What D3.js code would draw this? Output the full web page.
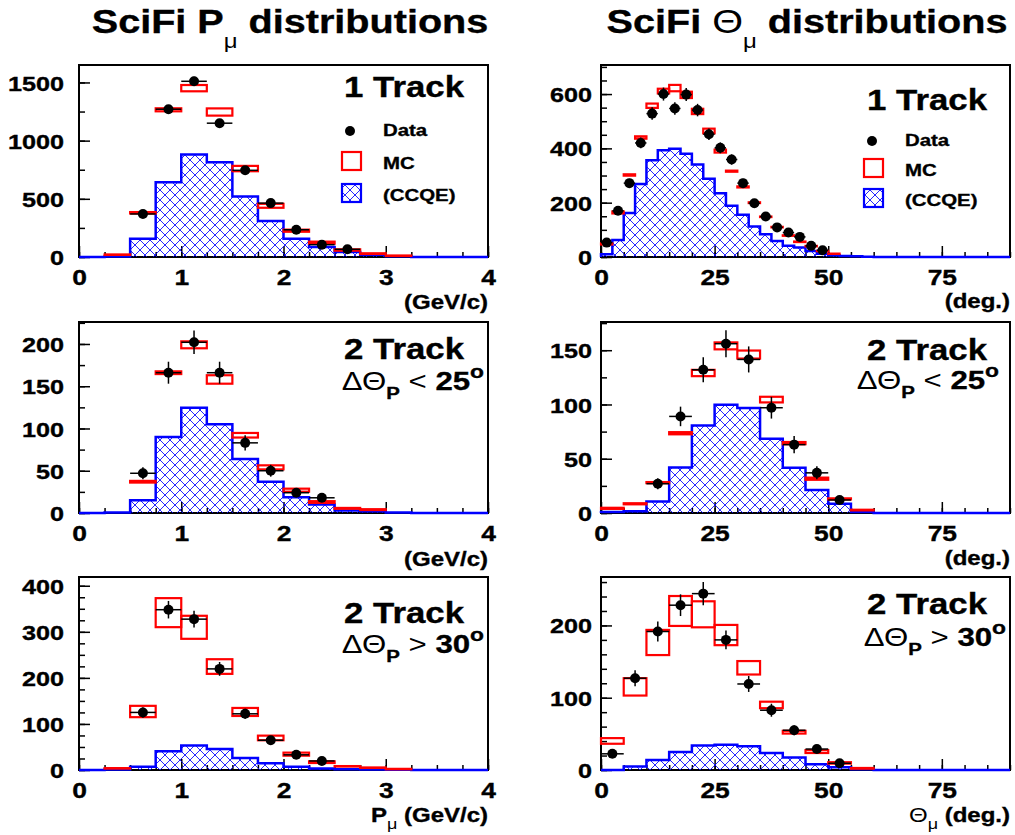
<!DOCTYPE html>
<html><head><meta charset="utf-8">
<script src="https://cdn.jsdelivr.net/npm/d3@7"></script>
<style>
body{margin:0;background:#fff;}
svg text{font-family:"Liberation Sans",Arial,Helvetica,sans-serif;}
</style></head><body>
<svg id="c" width="1015" height="835"></svg>
<script>
// ---------------- DATA ----------------
// P_mu panels: bins of 0.25 GeV/c starting at 0
const pMuBinWidth = 0.25;
const pMuXTicks = [0, 1, 2, 3, 4];
// 1 Track
const pMu1Data    = [null, null, 370, 1270, 1510, 1150, 745, 463, 234, 106, 66];
const pMu1DataErr = [0, 0, 19, 36, 39, 34, 27, 21, 15, 10, 8];
const pMu1MC      = [0, 20, 380, 1265, 1451, 1246, 760, 440, 226, 123, 60, 29, 11];
const pMu1MCErr   = [0, 2, 6, 13, 27, 31, 23, 17, 9, 9, 6, 3, 2];
const pMu1CCQE    = [0, 5, 157, 643, 880, 814, 520, 309, 157, 86, 43, 20, 6];
const pMu1YTicks  = [0, 500, 1000, 1500];
// 2 Track, dTheta_p < 25
const pMu2aData    = [null, null, 47, 166, 202, 166, 83, 50, 24, 18];
const pMu2aDataErr = [0, 0, 7, 13, 14, 13, 9, 7, 5, 4];
const pMu2aMC      = [0, 1, 37, 166, 199, 158, 92, 54, 27, 13, 5.5, 4, 1];
const pMu2aMCErr   = [0, 0, 1, 1.6, 4.1, 5, 2.7, 2.4, 1.8, 1, 0.5, 0.5, 0];
const pMu2aCCQE    = [0, 0.5, 15, 90, 124.6, 105, 64, 37, 18.5, 10, 3, 2, 0.5];
const pMu2aYTicks  = [0, 50, 100, 150, 200];
// 2 Track, dTheta_p > 30
const pMu2bData    = [null, null, 125, 348, 327.5, 219.5, 122, 64.5, 33, 19.6];
const pMu2bDataErr = [0, 0, 11, 19, 18, 15, 11, 8, 6, 4.5];
const pMu2bMC      = [0, 3.6, 127, 341.6, 309.8, 224.6, 126, 69.6, 34.4, 17, 8, 5, 2];
const pMu2bMCErr   = [0, 0.5, 12.3, 31.5, 25, 15.9, 8.7, 5, 3.3, 1.8, 0.5, 0.5, 0.5];
const pMu2bCCQE    = [0, 1, 7, 40.6, 53, 45.6, 26, 14.5, 7, 3, 1.5, 1, 0.5];
const pMu2bYTicks  = [0, 100, 200, 300, 400];

// Theta_mu panels
const thXTicks = [0, 25, 50, 75];
// 1 Track: bins of 2.5 deg
const th1BinWidth = 2.5;
const th1Data    = [53, 170, 272, 420, 528, 600, 547, 598, 541, 452, 402, 359, 272, 198, 149, 109, 90, 74, 41, 25];
const th1DataErr = [7, 13, 16, 20, 23, 24, 23, 24, 23, 21, 20, 19, 16, 14, 12, 10, 9, 9, 6, 5];
const th1MC      = [48, 164, 302, 440, 557, 611, 622, 597, 536, 464, 390, 316, 258, 200, 148, 110, 79, 56, 40, 22, 12, 7, 5, 3.7, 2.5, 1];
const th1MCErr   = [2, 3.7, 2.5, 4.4, 8, 8.6, 11.7, 11.7, 9.8, 8.6, 5.5, 2, 2, 1.5, 1, 1, 1, 1, 1, 0.5, 0.5, 0, 0, 0, 0, 0];
const th1CCQE    = [10, 63, 162, 269, 356, 393, 399, 380, 341, 288, 235, 189, 156, 112, 84, 59, 41, 35, 22, 12, 6, 3.7, 2.5, 1.2];
const th1YTicks  = [0, 200, 400, 600];
// 2 Track: bins of 5 deg
const th2BinWidth = 5;
const th2aData    = [null, null, 27, 89, 132, 156, 141.5, 97, 63, 37, 12];
const th2aDataErr = [0, 0, 5, 9, 11.5, 12.5, 12, 10, 8, 6, 3.5];
const th2aMC      = [4.3, 8.5, 28, 73.5, 129, 154, 146, 104.5, 64.4, 31.6, 13, 2.7];
const th2aMCErr   = [0.5, 0.5, 0.5, 1, 2.9, 3.2, 3.7, 2.6, 1, 1, 0.5, 0.3];
const th2aCCQE    = [1, 1.5, 10.6, 42, 80.6, 99.8, 96.8, 68.5, 41.7, 21.3, 8.5, 1];
const th2aYTicks  = [0, 50, 100, 150];

const th2bData    = [22.4, 127, 191.6, 228, 244, 180, 119, 82.7, 55, 29, 9.3];
const th2bDataErr = [5, 11, 14, 15, 16, 13, 11, 9, 7, 5, 3];
const th2bMC      = [40.2, 115, 176.4, 220, 215.4, 186.7, 141.4, 90, 52.3, 25.5, 9.8, 2.3];
const th2bMCErr   = [3.9, 12, 17.4, 20.7, 18, 14, 9.3, 4.5, 1.9, 2, 1, 0.5];
const th2bCCQE    = [0, 4.7, 14, 25, 34, 35, 32.7, 23.4, 17.3, 8, 3.7, 1];
const th2bYTicks  = [0, 100, 200];

// ---------------- LAYOUT ----------------
const SX = 1.2; // horizontal text stretch of the original
const cols = [{x0: 79, x1: 488, pad: 15, xMax: 4, xMinor: 0.25, xTicks: pMuXTicks},
              {x0: 601, x1: 1010, pad: 9, xMax: 90, xMinor: 5, xTicks: thXTicks}];
const rows = [{y0: 65, y1: 257}, {y0: 322, y1: 513}, {y0: 577, y1: 770}];

const panels = [
  {c: 0, r: 0, yMax: 1650, yMinor: 250, yTicks: pMu1YTicks, bw: pMuBinWidth, data: pMu1Data, dErr: pMu1DataErr, mc: pMu1MC, mcErr: pMu1MCErr, ccqe: pMu1CCQE},
  {c: 0, r: 1, yMax: 226, yMinor: 25, yTicks: pMu2aYTicks, bw: pMuBinWidth, data: pMu2aData, dErr: pMu2aDataErr, mc: pMu2aMC, mcErr: pMu2aMCErr, ccqe: pMu2aCCQE},
  {c: 0, r: 2, yMax: 419, yMinor: 25, yTicks: pMu2bYTicks, bw: pMuBinWidth, data: pMu2bData, dErr: pMu2bDataErr, mc: pMu2bMC, mcErr: pMu2bMCErr, ccqe: pMu2bCCQE},
  {c: 1, r: 0, yMax: 707, yMinor: 50, yTicks: th1YTicks, bw: th1BinWidth, data: th1Data, dErr: th1DataErr, mc: th1MC, mcErr: th1MCErr, ccqe: th1CCQE},
  {c: 1, r: 1, yMax: 176, yMinor: 25, yTicks: th2aYTicks, bw: th2BinWidth, data: th2aData, dErr: th2aDataErr, mc: th2aMC, mcErr: th2aMCErr, ccqe: th2aCCQE},
  {c: 1, r: 2, yMax: 267, yMinor: 20, yTicks: th2bYTicks, bw: th2BinWidth, data: th2bData, dErr: th2bDataErr, mc: th2bMC, mcErr: th2bMCErr, ccqe: th2bCCQE}
];

const BLUE = "#0000ff", RED = "#ff0000";
const svg = d3.select("#c");
const defs = svg.append("defs");
const pat = defs.append("pattern").attr("id", "hatch").attr("patternUnits", "userSpaceOnUse")
  .attr("width", 10).attr("height", 10);
pat.append("path").attr("d", "M0,0L10,10M0,10L10,0").attr("stroke", BLUE).attr("stroke-width", 0.85).attr("fill", "none");

function txt(x, y, anchor, size, parts) {
  const t = svg.append("text").attr("transform", `translate(${x},${y}) scale(${SX},1)`)
    .attr("text-anchor", anchor).attr("font-size", size).attr("font-weight", "bold").attr("fill", "#000")
    .attr("stroke", "#000").attr("stroke-width", 0.35);
  parts.forEach(p => {
    const s = t.append("tspan").text(p.t);
    if (p.w) s.attr("font-weight", p.w).attr("stroke-width", 0);
    if (p.s) s.attr("font-size", p.s);
    if (p.dy) s.attr("dy", p.dy);
  });
  return t;
}

panels.forEach(p => {
  const C = cols[p.c], R = rows[p.r];
  const x = d3.scaleLinear().domain([0, C.xMax]).range([C.x0, C.x1]);
  const y = d3.scaleLinear().domain([0, p.yMax]).range([R.y1, R.y0]);
  const g = svg.append("g");

  // frame
  g.append("rect").attr("x", C.x0).attr("y", R.y0).attr("width", C.x1 - C.x0).attr("height", R.y1 - R.y0)
    .attr("fill", "none").attr("stroke", "#000").attr("stroke-width", 2);

  // axes: minor ticks, then major ticks with labels
  const minorX = d3.range(0, C.xMax + 1e-9, C.xMinor);
  const minorY = d3.range(0, p.yMax, p.yMinor);
  const styleAxis = sel => { sel.select(".domain").remove(); sel.selectAll("line").attr("stroke-width", 1.5); };

  g.append("g").attr("transform", `translate(0,${R.y1})`)
    .call(d3.axisBottom(x).tickValues(minorX).tickSizeInner(-5).tickSizeOuter(0).tickFormat(""))
    .call(styleAxis);
  const xa = g.append("g").attr("transform", `translate(0,${R.y1})`)
    .call(d3.axisBottom(x).tickValues(C.xTicks).tickSizeInner(-11).tickSizeOuter(0).tickFormat(d3.format("d")))
    .call(styleAxis);
  xa.attr("font-family", null).attr("font-size", 22).attr("font-weight", "bold");
  xa.selectAll("text").attr("y", 28).attr("dy", 0).attr("fill", "#000").attr("stroke", "#000").attr("stroke-width", 0.35)
    .attr("transform", `scale(${SX},1)`);

  g.append("g").attr("transform", `translate(${C.x0},0)`)
    .call(d3.axisLeft(y).tickValues(minorY).tickSizeInner(-6).tickSizeOuter(0).tickFormat(""))
    .call(styleAxis);
  const ya = g.append("g").attr("transform", `translate(${C.x0},0)`)
    .call(d3.axisLeft(y).tickValues(p.yTicks).tickSizeInner(-11).tickSizeOuter(0).tickFormat(d3.format("d")))
    .call(styleAxis);
  ya.attr("font-family", null).attr("font-size", 21).attr("font-weight", "bold");
  ya.selectAll("text").attr("x", -C.pad / SX).attr("dy", "0.36em").attr("fill", "#000").attr("stroke", "#000").attr("stroke-width", 0.35)
    .attr("transform", `scale(${SX},1)`);

  // CCQE hatched histogram
  const nb = Math.round(C.xMax / p.bw);
  const pts = [[0, 0]];
  for (let i = 0; i < nb; i++) {
    const v = p.ccqe[i] || 0;
    pts.push([i * p.bw, v], [(i + 1) * p.bw, v]);
  }
  pts.push([nb * p.bw, 0]);
  const line = d3.line().x(d => x(d[0])).y(d => y(d[1]));
  g.append("path").attr("d", line(pts) + "Z").attr("fill", "url(#hatch)").attr("stroke", "none");
  g.append("path").attr("d", line(pts)).attr("fill", "none").attr("stroke", BLUE).attr("stroke-width", 2.5);

  // MC boxes
  p.mc.forEach((v, i) => {
    if (!(v > 0)) return;
    const e = p.mcErr[i] || 0;
    g.append("rect").attr("x", x(i * p.bw)).attr("width", x((i + 1) * p.bw) - x(i * p.bw))
      .attr("y", y(v + e)).attr("height", Math.max(0, y(v - e) - y(v + e)))
      .attr("fill", "none").attr("stroke", RED).attr("stroke-width", 2.2);
  });

  // data points
  p.data.forEach((v, i) => {
    if (v == null) return;
    const e = p.dErr[i] || 0, cx = x((i + 0.5) * p.bw);
    g.append("line").attr("x1", x(i * p.bw)).attr("x2", x((i + 1) * p.bw)).attr("y1", y(v)).attr("y2", y(v))
      .attr("stroke", "#000").attr("stroke-width", 1.5);
    g.append("line").attr("x1", cx).attr("x2", cx).attr("y1", y(v - e)).attr("y2", y(v + e))
      .attr("stroke", "#000").attr("stroke-width", 1.5);
    g.append("circle").attr("cx", cx).attr("cy", y(v)).attr("r", 5).attr("fill", "#000");
  });
});

// ---------------- TEXT ----------------
txt(290, 33, "middle", 33, [{t: "SciFi P"}, {t: "μ", w: "normal", s: 20, dy: 15}, {t: " distributions", dy: -15}]);
txt(807, 33, "middle", 33, [{t: "SciFi "}, {t: "Θ", w: "normal"}, {t: "μ", w: "normal", s: 20, dy: 15}, {t: " distributions", dy: -15}]);

// panel labels
txt(464, 97, "end", 29, [{t: "1 Track"}]);
txt(987, 110, "end", 29, [{t: "1 Track"}]);
txt(464, 359, "end", 29, [{t: "2 Track"}]);
txt(987, 360, "end", 29, [{t: "2 Track"}]);
txt(464, 623, "end", 29, [{t: "2 Track"}]);
txt(987, 614, "end", 29, [{t: "2 Track"}]);
function dtheta(x, y, op, val) {
  txt(x, y, "end", 26, [{t: "ΔΘ", w: "normal"}, {t: "P", s: 17, dy: 9}, {t: " " + op + " ", w: "normal", dy: -9},
    {t: val}, {t: "o", s: 19, dy: -12}]);
}
dtheta(484, 390, "<", "25");
dtheta(999, 389, "<", "25");
dtheta(484, 653, ">", "30");
dtheta(1006, 646, ">", "30");

// legends
function legend(x, yData, yMC, yCC) {
  svg.append("circle").attr("cx", x + 8).attr("cy", yData - 5).attr("r", 5).attr("fill", "#000");
  txt(x + 41, yData, "start", 17, [{t: "Data"}]);
  svg.append("rect").attr("x", x).attr("y", yMC - 17).attr("width", 19).attr("height", 18)
    .attr("fill", "none").attr("stroke", RED).attr("stroke-width", 2.2);
  txt(x + 41, yMC, "start", 17, [{t: "MC"}]);
  svg.append("rect").attr("x", x).attr("y", yCC - 17).attr("width", 19).attr("height", 18)
    .attr("fill", "url(#hatch)").attr("stroke", BLUE).attr("stroke-width", 2.2);
  txt(x + 41, yCC, "start", 17, [{t: "(CCQE)"}]);
}
legend(342, 136, 169, 201);
legend(864, 146, 176, 206);

// axis titles
txt(488, 309, "end", 20, [{t: "(GeV/c)"}]);
txt(1010, 308, "end", 20, [{t: "(deg.)"}]);
txt(488, 566, "end", 20, [{t: "(GeV/c)"}]);
txt(1010, 565, "end", 20, [{t: "(deg.)"}]);
txt(488, 822, "end", 20, [{t: "P"}, {t: "μ", w: "normal", s: 15, dy: 7}, {t: " (GeV/c)", dy: -7}]);
txt(1010, 822, "end", 20, [{t: "Θ", w: "normal"}, {t: "μ", w: "normal", s: 15, dy: 7}, {t: " (deg.)", dy: -7}]);
</script>
</body></html>
